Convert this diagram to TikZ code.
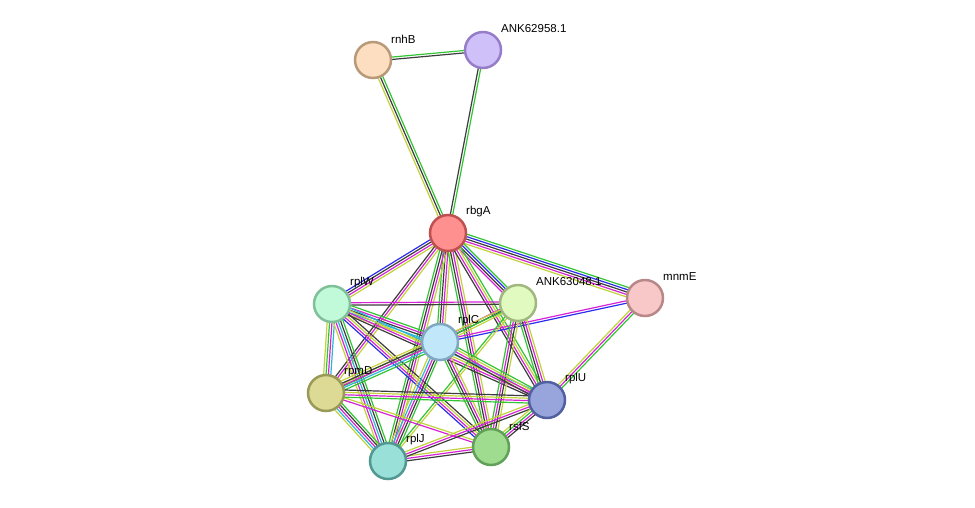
\documentclass[tikz,border=0pt]{standalone}
\usepackage{fontspec}
\setmainfont{Liberation Sans}
\usetikzlibrary{calc,backgrounds}
\definecolor{gr}{HTML}{33C433}
\definecolor{bl}{HTML}{2C2CF0}
\definecolor{bk}{HTML}{3C3C3C}
\definecolor{mg}{HTML}{D523D5}
\definecolor{cy}{HTML}{2AB6D8}
\definecolor{ye}{HTML}{C2D23A}
\definecolor{fA}{RGB}{253,222,192}\definecolor{dA}{RGB}{184,154,122}
\definecolor{fB}{RGB}{208,192,250}\definecolor{dB}{RGB}{150,125,200}
\definecolor{fC}{RGB}{255,144,144}\definecolor{dC}{RGB}{192,80,80}
\definecolor{fD}{RGB}{248,200,200}\definecolor{dD}{RGB}{184,136,136}
\definecolor{fE}{RGB}{192,250,216}\definecolor{dE}{RGB}{128,192,152}
\definecolor{fF}{RGB}{224,250,192}\definecolor{dF}{RGB}{160,184,128}
\definecolor{fG}{RGB}{192,232,250}\definecolor{dG}{RGB}{128,168,192}
\definecolor{fH}{RGB}{220,218,148}\definecolor{dH}{RGB}{154,154,88}
\definecolor{fI}{RGB}{152,164,220}\definecolor{dI}{RGB}{80,96,160}
\definecolor{fJ}{RGB}{160,220,144}\definecolor{dJ}{RGB}{96,160,88}
\definecolor{fK}{RGB}{152,224,216}\definecolor{dK}{RGB}{80,152,144}
\tikzset{
  prot/.style={circle, minimum size=36pt, inner sep=0pt, line width=2.5pt},
  plabel/.style={anchor=west, inner sep=0pt, font=\fontsize{11.5}{13}\selectfont},
  eline/.style={line width=1.2pt},
}
\newcommand\pnode[6]{%
  \node[prot, fill=#4, draw=#5] (#1) at (#2,#3) {};
  \node[plabel] (#1-lab) at ($(#1.center)+(18,-21)$) {#6};
}
\newcommand\edge[4]{%
  \foreach \c [count=\i] in {#4} {
    \pgfmathsetmacro\eoff{(\i-(#3+1)/2)*2.4}
    \draw[eline, draw=\c] let \p1=($(#2.center)-(#1.center)$), \n1={atan2(\y1,\x1)+90} in
      ($(#1.center)+(\n1:\eoff pt)$) -- ($(#2.center)+(\n1:\eoff pt)$);
  }%
}
\begin{document}
\begin{tikzpicture}[x=1pt,y=-1pt]
\useasboundingbox (0,0) rectangle (975,507);
\pnode{rnhB}{373}{60}{fA}{dA}{rnhB}
\pnode{ank1}{483}{50}{fB}{dB}{ANK62958.1}
\pnode{rbgA}{448}{233}{fC}{dC}{rbgA}
\pnode{mnmE}{645}{298}{fD}{dD}{mnmE}
\pnode{rplW}{332}{304}{fE}{dE}{rplW}
\pnode{ank2}{518}{303}{fF}{dF}{ANK63048.1}
\pnode{rplC}{440}{342}{fG}{dG}{rplC}
\pnode{rpmD}{326}{393}{fH}{dH}{rpmD}
\pnode{rplU}{547}{400}{fI}{dI}{rplU}
\pnode{rsfS}{491}{447}{fJ}{dJ}{rsfS}
\pnode{rplJ}{388}{461}{fK}{dK}{rplJ}
\begin{pgfonlayer}{background}
\edge{rnhB}{ank1}{2}{bk,gr}
\edge{rnhB}{rbgA}{3}{ye,bk,gr}
\edge{ank1}{rbgA}{2}{bk,gr}
\edge{rbgA}{mnmE}{5}{ye,mg,bk,bl,gr}
\edge{rbgA}{ank2}{4}{mg,bk,bl,gr}
\edge{rbgA}{rplW}{4}{bl,bk,mg,ye}
\edge{rbgA}{rplC}{4}{gr,bk,mg,ye}
\edge{rbgA}{rpmD}{3}{bk,mg,ye}
\edge{rbgA}{rplJ}{4}{gr,bk,mg,ye}
\edge{rbgA}{rsfS}{4}{gr,bk,mg,ye}
\edge{rbgA}{rplU}{4}{bk,mg,ye,gr}
\edge{mnmE}{rplC}{2}{mg,bl}
\edge{mnmE}{rplU}{3}{ye,mg,gr}
\edge{rplW}{ank2}{2}{bk,mg}
\edge{rplW}{rplC}{5}{ye,cy,bk,mg,gr}
\edge{rplW}{rpmD}{4}{ye,gr,mg,cy}
\edge{rplW}{rplJ}{5}{ye,mg,cy,bk,gr}
\edge{rplW}{rsfS}{4}{bl,mg,ye,bk}
\edge{rplW}{rplU}{4}{bk,mg,ye,cy}
\edge{ank2}{rplC}{3}{mg,bk,ye}
\edge{ank2}{rpmD}{2}{ye,gr}
\edge{ank2}{rplJ}{2}{gr,ye}
\edge{ank2}{rsfS}{4}{gr,mg,bk,ye}
\edge{ank2}{rplU}{4}{gr,bk,mg,ye}
\edge{rplC}{rpmD}{5}{ye,bk,mg,cy,gr}
\edge{rplC}{rplJ}{5}{ye,cy,mg,bk,gr}
\edge{rplC}{rsfS}{4}{gr,bk,mg,ye}
\edge{rplC}{rplU}{4}{bk,mg,ye,gr}
\edge{rpmD}{rplJ}{5}{ye,cy,mg,bk,gr}
\edge{rpmD}{rsfS}{2}{mg,ye}
\edge{rpmD}{rplU}{4}{gr,mg,ye,bk}
\edge{rplJ}{rsfS}{3}{bk,mg,ye}
\edge{rplJ}{rplU}{3}{bk,mg,ye}
\edge{rsfS}{rplU}{4}{bk,mg,gr,ye}
\end{pgfonlayer}
\end{tikzpicture}
\end{document}
